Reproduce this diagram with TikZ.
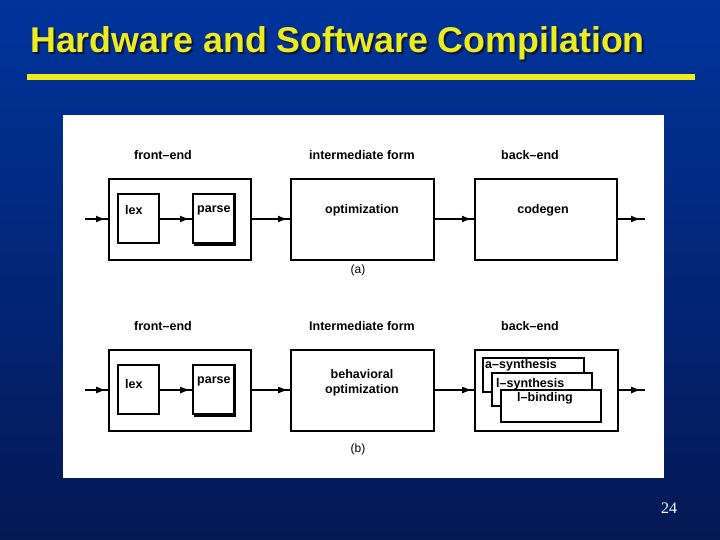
\documentclass[tikz,border=0pt]{standalone}
\usepackage{fontspec}
\setmainfont{Liberation Sans}
\newfontfamily\serifnum{Liberation Serif}
\usetikzlibrary{arrows.meta,decorations.markings}
\definecolor{bgtop}{RGB}{0,52,156}
\definecolor{bgbot}{RGB}{4,24,84}
\definecolor{ttl}{RGB}{236,236,30}
\definecolor{shd}{RGB}{10,20,60}
\begin{document}
\begin{tikzpicture}[x=1pt,y=-1pt,
  outer/.style={draw=black,line width=2.4pt,fill=white},
  inner/.style={draw=black,line width=1.2pt,fill=white},
  sub/.style={draw=black,line width=2pt,fill=white},
  lbl/.style={font=\fontsize{12.5}{14}\selectfont\bfseries,inner sep=0pt},
  blbl/.style={font=\fontsize{12.5}{14}\selectfont\bfseries,inner sep=0pt},
  flow/.style={line width=#1,postaction={decorate},
    decoration={markings,mark=at position -4pt with {\arrow{Latex[length=10pt,width=7pt]}}}},
]
\useasboundingbox (0,0) rectangle (720,540);
\shade[top color=bgtop,bottom color=bgbot] (0,0) rectangle (720,540);
% title
\node[anchor=base west,inner sep=0pt,font=\fontsize{35.8}{40}\selectfont\bfseries,text=ttl] (title) at (30,53)
  {\makebox[0pt][l]{\raisebox{-2pt}{\hspace{2pt}\textcolor{shd}{Hardware and Software Compilation}}}Hardware and Software Compilation};
\fill[ttl] (27,74) rectangle (695,80);
% panel
\fill[white] (63,115) rectangle (664,478);
\node[font=\serifnum\fontsize{16}{18}\selectfont,text=white] (pg) at (669,508) {24};

% ---------------- (a)
\node[lbl] (afe) at (163,155) {front–end};
\node[lbl] (aif) at (362,155) {intermediate form};
\node[lbl] (abe) at (530,155) {back–end};
\draw[outer] (109,179) rectangle (251,260);
\draw[outer] (291,179) rectangle (434,260);
\draw[outer] (475,179) rectangle (617,260);
\coordinate (afeW) at (110,219); \coordinate (afeE) at (251,219);
\coordinate (aopW) at (292,219); \coordinate (aopE) at (434,219);
\coordinate (acgW) at (476,219); \coordinate (acgE) at (617,219);
\coordinate (ain) at (85,219); \coordinate (aout) at (645,219);
\draw[inner] (118,194) rectangle (159,243);
\draw[inner] (193,194) rectangle (235,243);
\draw[line width=3pt] (234,195) -- (234,244) -- (194,244);
\coordinate (alexE) at (159,219); \coordinate (aparW) at (194,219);
\node[lbl,anchor=west] (alex) at (125,210) {lex};
\node[lbl,anchor=west] (apar) at (197,210) {parse};
\node[lbl] (aopt) at (362,210) {optimization};
\node[lbl] (acg) at (543,210) {codegen};
\node[lbl,font=\fontsize{12}{13}\selectfont] (acap) at (358,270) {(a)};
\draw[flow=2pt] (ain) -- (afeW);
\draw[flow=2pt] (alexE) -- (aparW);
\draw[flow=2pt] (afeE) -- (aopW);
\draw[flow=2pt] (aopE) -- (acgW);
\draw[flow=2pt] (acgE) -- (aout);

% ---------------- (b)
\node[lbl] (bfe) at (163,326) {front–end};
\node[lbl] (bif) at (362,326) {Intermediate form};
\node[lbl] (bbe) at (530,326) {back–end};
\draw[outer] (109,350) rectangle (251,431);
\draw[outer] (291,350) rectangle (434,431);
\draw[outer] (475,350) rectangle (618,431);
\coordinate (bfeW) at (110,390); \coordinate (bfeE) at (251,390);
\coordinate (bopW) at (292,390); \coordinate (bopE) at (434,390);
\coordinate (bbeW) at (476,390); \coordinate (bbeE) at (618,390);
\coordinate (bin) at (85,390); \coordinate (bout) at (645,390);
\draw[inner] (118,365) rectangle (159,414);
\draw[inner] (193,365) rectangle (235,414);
\draw[line width=3pt] (234,366) -- (234,415) -- (194,415);
\coordinate (blexE) at (159,390); \coordinate (bparW) at (194,390);
\node[lbl,anchor=west] (blex) at (125,384) {lex};
\node[lbl,anchor=west] (bpar) at (197,381) {parse};
\node[lbl,align=center] (bopt) at (362,383) {behavioral\\[1pt]optimization};
\node[lbl,font=\fontsize{12}{13}\selectfont] (bcap) at (358,449) {(b)};
\draw[sub] (483,358) rectangle (584,392);
\draw[sub] (492,373) rectangle (592,406);
\draw[sub] (501,390) rectangle (601,422);
\node[blbl,anchor=west] (bas) at (485,365) {a–synthesis};
\node[blbl,anchor=west] (bls) at (496,384) {l–synthesis};
\node[blbl] (blb) at (545,398) {l–binding};
\draw[flow=1.1pt] (bin) -- (bfeW);
\draw[flow=1.1pt] (blexE) -- (bparW);
\draw[flow=1.1pt] (bfeE) -- (bopW);
\draw[flow=1.1pt] (bopE) -- (bbeW);
\draw[flow=1.1pt] (bbeE) -- (bout);
\end{tikzpicture}
\end{document}
